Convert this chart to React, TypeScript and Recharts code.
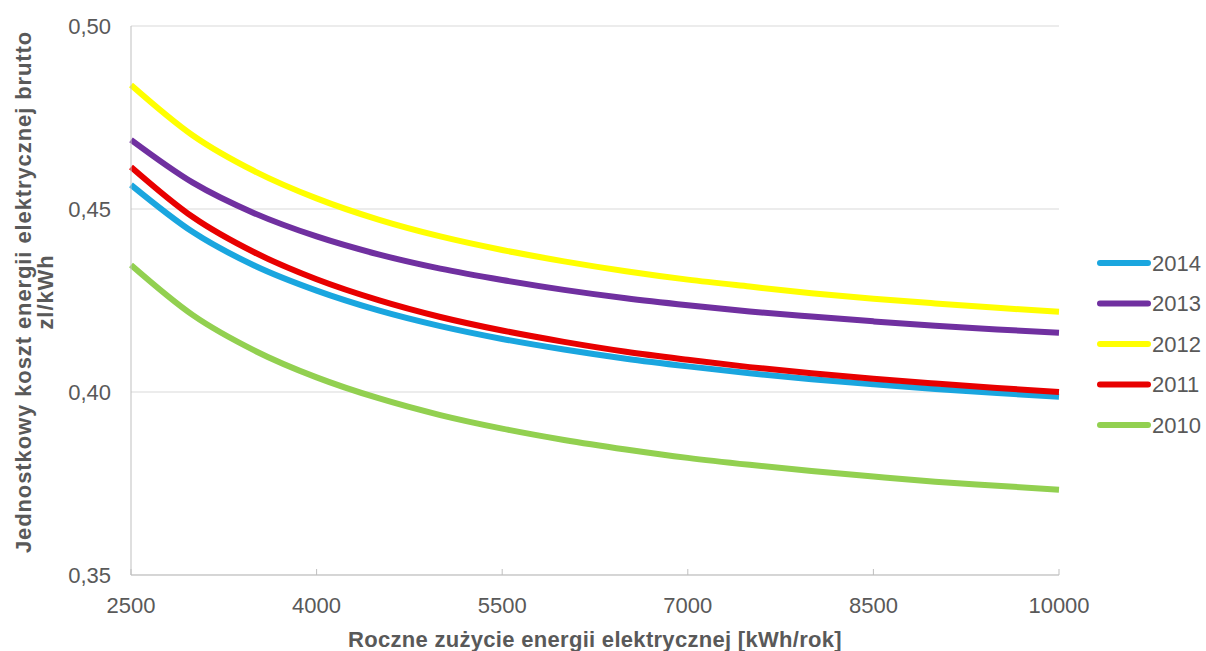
import React from 'react';
import {
  LineChart,
  Line,
  XAxis,
  YAxis,
  CartesianGrid,
  Legend,
  Label,
} from 'recharts';

// roczne zużycie [kWh/rok]
const usage = [2500, 3000, 3500, 4000, 4500, 5000, 5500, 6000, 6500, 7000, 7500, 8000, 8500, 9000, 9500, 10000];

// koszt jednostkowy [zł/kWh]
const cost2014 = [0.4566, 0.4437, 0.4345, 0.4277, 0.4223, 0.418, 0.4145, 0.4116, 0.4091, 0.407, 0.4051, 0.4035, 0.4021, 0.4008, 0.3997, 0.3987];
const cost2013 = [0.4689, 0.4572, 0.4488, 0.4425, 0.4376, 0.4337, 0.4306, 0.4279, 0.4256, 0.4237, 0.422, 0.4206, 0.4193, 0.4181, 0.4171, 0.4162];
const cost2012 = [0.4839, 0.4701, 0.4603, 0.4529, 0.4471, 0.4425, 0.4388, 0.4357, 0.433, 0.4307, 0.4288, 0.427, 0.4255, 0.4242, 0.423, 0.4219];
const cost2011 = [0.4615, 0.4478, 0.4381, 0.4308, 0.4251, 0.4205, 0.4168, 0.4137, 0.411, 0.4088, 0.4068, 0.4051, 0.4036, 0.4023, 0.4011, 0.4];
const cost2010 = [0.4347, 0.421, 0.4113, 0.404, 0.3983, 0.3937, 0.39, 0.3869, 0.3843, 0.382, 0.3801, 0.3784, 0.3769, 0.3755, 0.3744, 0.3733];

const xTicks = [2500, 4000, 5500, 7000, 8500, 10000];
const yTicks = [0.35, 0.4, 0.45, 0.5];

const SERIES = [
  { key: '2014', color: '#1aa6df' },
  { key: '2013', color: '#7030a0' },
  { key: '2012', color: '#ffff00' },
  { key: '2011', color: '#e80000' },
  { key: '2010', color: '#92d050' },
];

const data = usage.map((u, i) => ({
  usage: u,
  '2014': cost2014[i],
  '2013': cost2013[i],
  '2012': cost2012[i],
  '2011': cost2011[i],
  '2010': cost2010[i],
}));

const FONT = 'Arial, "Liberation Sans", sans-serif';
const TEXT = '#595959';

const LegendBox = () => (
  <svg width={109} height={200}>
    {SERIES.map((s, i) => {
      const y = 20 + i * 40.5;
      return (
        <g key={s.key}>
          <line x1={3} x2={51} y1={y} y2={y} stroke={s.color} strokeWidth={6} strokeLinecap="round" />
          <text x={55} y={y} dy="0.36em" fontSize={22} fill={TEXT} fontFamily={FONT}>{s.key}</text>
        </g>
      );
    })}
  </svg>
);

const YTitle = () => (
  <text fill={TEXT} fontFamily={FONT} fontSize={22} fontWeight="bold" textAnchor="middle"
    letterSpacing={0.9} transform="translate(23, 292) rotate(-90)">
    <tspan x={0} dy="0.36em">Jednostkowy koszt energii elektrycznej brutto</tspan>
    <tspan x={0} dy={22}>zl/kWh</tspan>
  </text>
);

export default function App() {
  return (
    <div style={{ position: 'absolute', left: 0, top: 0, width: 1206, height: 651, background: '#fff' }}>
      <LineChart width={1206} height={651} data={data} margin={{ top: 26, right: 38, bottom: 0, left: 0 }}>
        <CartesianGrid horizontal vertical={false} stroke="#d9d9d9" />
        <XAxis
          dataKey="usage"
          type="number"
          domain={[2500, 10000]}
          ticks={xTicks}
          height={76}
          stroke="#bfbfbf"
          tickSize={-6}
          tickMargin={28}
          tick={{ fill: TEXT, fontSize: 22, fontFamily: FONT }}
        >
          <Label value="Roczne zużycie energii elektrycznej [kWh/rok]" position="insideBottom" offset={4}
            style={{ fill: TEXT, fontSize: 22, fontWeight: 'bold', fontFamily: FONT, letterSpacing: 0.3 }} />
        </XAxis>
        <YAxis
          type="number"
          domain={[0.35, 0.5]}
          ticks={yTicks}
          width={131}
          stroke="#bfbfbf"
          tickLine={false}
          tickMargin={14}
          tickFormatter={v => v.toFixed(2).replace('.', ',')}
          tick={{ fill: TEXT, fontSize: 22, fontFamily: FONT }}
        >
          <Label content={<YTitle />} />
        </YAxis>
        <Legend
          layout="horizontal"
          verticalAlign="middle"
          align="right"
          content={<LegendBox />}
          wrapperStyle={{ position: 'absolute', left: 1097, top: 243, width: 109, height: 200 }}
        />
        {SERIES.map(s => (
          <Line
            key={s.key}
            dataKey={s.key}
            type="monotone"
            stroke={s.color}
            strokeWidth={6}
            dot={false}
            activeDot={false}
            isAnimationActive={false}
          />
        ))}
      </LineChart>
    </div>
  );
}
